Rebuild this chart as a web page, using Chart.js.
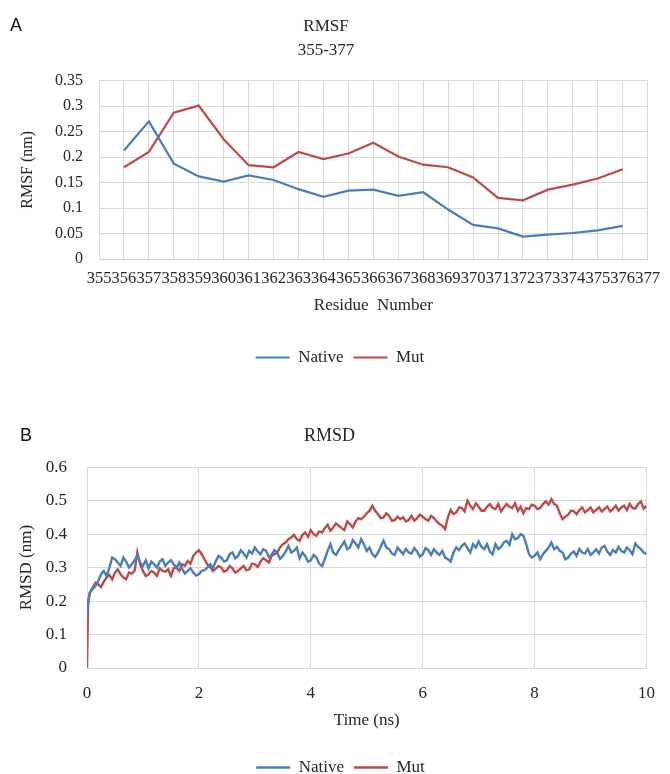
<!DOCTYPE html>
<html>
<head>
<meta charset="utf-8">
<script src="https://cdn.jsdelivr.net/npm/chart.js@4"></script>
<style>
  html, body { margin: 0; padding: 0; background: #fff; width: 670px; height: 774px; overflow: hidden; }
  .panel { position: absolute; left: 0; width: 670px; }
  #top { top: 0; height: 390px; }
  #bottom { top: 390px; height: 400px; }
  canvas { display: block; }
  .tag { position: absolute; font-family: "Liberation Sans", Arial, sans-serif; font-size: 18px; color: #111; }
</style>
</head>
<body>
<div class="panel" id="top"><canvas id="rmsf-chart" width="670" height="390"></canvas></div>
<div class="panel" id="bottom"><canvas id="rmsd-chart" width="670" height="400"></canvas></div>
<div class="tag" style="left:10px; top:15px;">A</div>
<div class="tag" style="left:20px; top:425px;">B</div>
<script>
// RMSF per residue (panel A)
const residues = ['355','356','357','358','359','360','361','362','363','364','365','366',
                  '367','368','369','370','371','372','373','374','375','376','377'];
const rmsfNative = [null, 0.213, 0.270, 0.187, 0.162, 0.152, 0.164, 0.155, 0.137, 0.122, 0.134, 0.136,
                    0.124, 0.131, 0.097, 0.067, 0.060, 0.044, 0.048, 0.051, 0.056, 0.065, null];
const rmsfMut = [null, 0.180, 0.210, 0.287, 0.301, 0.235, 0.184, 0.180, 0.210, 0.196, 0.207, 0.228,
                 0.201, 0.185, 0.180, 0.160, 0.120, 0.115, 0.136, 0.146, 0.158, 0.176, null];

// RMSD over time (panel B), one row per ns
const rmsdTime = [
  0, 0.02, 0.05, 0.1, 0.15, 0.2, 0.25, 0.3, 0.35, 0.4, 0.45, 0.5, 0.55, 0.6, 0.65, 0.7, 0.75, 0.8, 0.85, 0.9, 0.95,
  1.0, 1.05, 1.1, 1.15, 1.2, 1.25, 1.3, 1.35, 1.4, 1.45, 1.5, 1.55, 1.6, 1.65, 1.7, 1.75, 1.8, 1.85, 1.9, 1.95,
  2.0, 2.05, 2.1, 2.15, 2.2, 2.25, 2.3, 2.35, 2.4, 2.45, 2.5, 2.55, 2.6, 2.65, 2.7, 2.75, 2.8, 2.85, 2.9, 2.95,
  3.0, 3.05, 3.1, 3.15, 3.2, 3.25, 3.3, 3.35, 3.4, 3.45, 3.5, 3.55, 3.6, 3.65, 3.7, 3.75, 3.8, 3.85, 3.9, 3.95,
  4.0, 4.05, 4.1, 4.15, 4.2, 4.25, 4.3, 4.35, 4.4, 4.45, 4.5, 4.55, 4.6, 4.65, 4.7, 4.75, 4.8, 4.85, 4.9, 4.95,
  5.0, 5.05, 5.1, 5.15, 5.2, 5.25, 5.3, 5.35, 5.4, 5.45, 5.5, 5.55, 5.6, 5.65, 5.7, 5.75, 5.8, 5.85, 5.9, 5.95,
  6.0, 6.05, 6.1, 6.15, 6.2, 6.25, 6.3, 6.35, 6.4, 6.45, 6.5, 6.55, 6.6, 6.65, 6.7, 6.75, 6.8, 6.85, 6.9, 6.95,
  7.0, 7.05, 7.1, 7.15, 7.2, 7.25, 7.3, 7.35, 7.4, 7.45, 7.5, 7.55, 7.6, 7.65, 7.7, 7.75, 7.8, 7.85, 7.9, 7.95,
  8.0, 8.05, 8.1, 8.15, 8.2, 8.25, 8.3, 8.35, 8.4, 8.45, 8.5, 8.55, 8.6, 8.65, 8.7, 8.75, 8.8, 8.85, 8.9, 8.95,
  9.0, 9.05, 9.1, 9.15, 9.2, 9.25, 9.3, 9.35, 9.4, 9.45, 9.5, 9.55, 9.6, 9.65, 9.7, 9.75, 9.8, 9.85, 9.9, 9.95,
  10.0];
const rmsdNative = [
  0.15, 0.20, 0.225, 0.235, 0.245, 0.26, 0.28, 0.29, 0.275, 0.30, 0.33, 0.325, 0.315, 0.305, 0.33, 0.318, 0.30, 0.31, 0.322, 0.335, 0.315,
  0.305, 0.322, 0.298, 0.318, 0.31, 0.30, 0.318, 0.325, 0.305, 0.315, 0.322, 0.31, 0.30, 0.315, 0.296, 0.282, 0.29, 0.298, 0.285, 0.276,
  0.28, 0.29, 0.292, 0.30, 0.31, 0.298, 0.318, 0.335, 0.33, 0.318, 0.322, 0.34, 0.345, 0.328, 0.335, 0.352, 0.342, 0.33, 0.35, 0.342,
  0.36, 0.348, 0.34, 0.355, 0.35, 0.332, 0.338, 0.352, 0.345, 0.326, 0.335, 0.348, 0.365, 0.345, 0.35, 0.36, 0.328, 0.345, 0.335, 0.318,
  0.322, 0.338, 0.33, 0.312, 0.305, 0.325, 0.35, 0.37, 0.345, 0.338, 0.352, 0.365, 0.378, 0.355, 0.36, 0.382, 0.372, 0.36, 0.385, 0.37,
  0.35, 0.36, 0.34, 0.332, 0.345, 0.362, 0.38, 0.36, 0.355, 0.342, 0.338, 0.36, 0.35, 0.34, 0.356, 0.345, 0.342, 0.358, 0.348, 0.332,
  0.34, 0.358, 0.352, 0.338, 0.355, 0.345, 0.338, 0.35, 0.33, 0.325, 0.318, 0.345, 0.36, 0.352, 0.365, 0.372, 0.358, 0.345, 0.37, 0.36,
  0.378, 0.362, 0.355, 0.37, 0.348, 0.34, 0.37, 0.355, 0.362, 0.375, 0.38, 0.368, 0.40, 0.385, 0.388, 0.40, 0.395, 0.37, 0.34, 0.33,
  0.335, 0.345, 0.325, 0.34, 0.35, 0.36, 0.375, 0.355, 0.362, 0.35, 0.345, 0.325, 0.33, 0.342, 0.348, 0.335, 0.356, 0.345, 0.342, 0.355,
  0.338, 0.345, 0.355, 0.342, 0.36, 0.365, 0.348, 0.338, 0.352, 0.345, 0.362, 0.35, 0.345, 0.36, 0.352, 0.34, 0.372, 0.362, 0.355, 0.345,
  0.34];
const rmsdMut = [
  0, 0.19, 0.225, 0.24, 0.255, 0.25, 0.242, 0.258, 0.27, 0.278, 0.265, 0.285, 0.295, 0.28, 0.27, 0.265, 0.285, 0.282, 0.29, 0.345, 0.31,
  0.29, 0.275, 0.28, 0.29, 0.285, 0.275, 0.298, 0.29, 0.288, 0.295, 0.275, 0.298, 0.30, 0.29, 0.31, 0.305, 0.32, 0.312, 0.335, 0.345,
  0.352, 0.34, 0.325, 0.31, 0.302, 0.29, 0.296, 0.305, 0.30, 0.288, 0.292, 0.305, 0.298, 0.285, 0.29, 0.298, 0.305, 0.292, 0.295, 0.312,
  0.31, 0.302, 0.318, 0.328, 0.322, 0.315, 0.335, 0.34, 0.345, 0.36, 0.37, 0.375, 0.385, 0.39, 0.398, 0.385, 0.38, 0.398, 0.405, 0.392,
  0.412, 0.40, 0.395, 0.408, 0.405, 0.418, 0.428, 0.41, 0.42, 0.432, 0.425, 0.418, 0.412, 0.438, 0.43, 0.42, 0.438, 0.448, 0.445, 0.452,
  0.462, 0.47, 0.485, 0.47, 0.46, 0.448, 0.45, 0.462, 0.455, 0.44, 0.442, 0.452, 0.445, 0.45, 0.438, 0.442, 0.455, 0.44, 0.448, 0.458,
  0.452, 0.445, 0.44, 0.455, 0.448, 0.438, 0.43, 0.425, 0.415, 0.45, 0.472, 0.46, 0.465, 0.48, 0.478, 0.468, 0.50, 0.485, 0.475, 0.492,
  0.482, 0.47, 0.47, 0.482, 0.49, 0.478, 0.475, 0.49, 0.468, 0.48, 0.49, 0.482, 0.478, 0.492, 0.47, 0.482, 0.462, 0.478, 0.475, 0.488,
  0.485, 0.475, 0.478, 0.49, 0.498, 0.488, 0.505, 0.49, 0.485, 0.462, 0.445, 0.452, 0.458, 0.47, 0.468, 0.46, 0.472, 0.48, 0.465, 0.472,
  0.48, 0.465, 0.472, 0.48, 0.468, 0.475, 0.482, 0.468, 0.475, 0.485, 0.47, 0.48, 0.485, 0.472, 0.49, 0.478, 0.476, 0.49, 0.498, 0.476,
  0.485];

const blue = '#4a7ebb';
const red = '#be4b48';
const gridColor = '#d9d9d9';
const textColor = '#262626';
const serif = '"Liberation Serif", "Times New Roman", serif';

Chart.defaults.font.family = serif;
Chart.defaults.color = textColor;
Chart.defaults.animation = false;

function legendOpts() {
    return {
        position: 'bottom',
        labels: {
            usePointStyle: true,
            pointStyle: 'line',
            pointStyleWidth: 34,
            boxHeight: 3,
            font: { size: 17, family: serif },
            color: textColor,
            padding: 10
        }
    };
}

// nudges the legend sideways so it sits under the middle like the original
function legendShift(dx) {
    return {
        id: 'legendShift',
        afterLayout(chart) {
            chart.legend.left += dx;
            chart.legend.right += dx;
        }
    };
}

// panel A
new Chart(document.querySelector('#rmsf-chart').getContext('2d'), {
    type: 'line',
    data: {
        labels: residues,
        datasets: [
            { label: 'Native', data: rmsfNative, borderColor: blue, backgroundColor: blue, borderWidth: 2.2, pointRadius: 0, tension: 0 },
            { label: 'Mut', data: rmsfMut, borderColor: red, backgroundColor: red, borderWidth: 2.2, pointRadius: 0, tension: 0 }
        ]
    },
    options: {
        responsive: false,
        layout: { padding: { left: 0, right: 18, top: 0, bottom: 14 } },
        plugins: {
            title: { display: true, text: ['RMSF', '355-377'], font: { size: 17, weight: 'normal', lineHeight: 1.4 }, color: textColor, padding: { top: 15, bottom: 18 } },
            legend: legendOpts(),
            tooltip: { enabled: false }
        },
        scales: {
            x: {
                offset: false,
                grid: { color: gridColor, drawTicks: false, offset: false },
                border: { color: gridColor },
                ticks: { autoSkip: false, maxRotation: 0, minRotation: 0, padding: 10, font: { size: 16.5 } },
                title: { display: true, text: 'Residue  Number', font: { size: 17 }, padding: { top: 0, bottom: 23 } },
                afterFit: s => { s.height = 80; }
            },
            y: {
                min: 0, max: 0.35,
                grid: { color: gridColor, drawTicks: false },
                border: { color: gridColor },
                ticks: { stepSize: 0.05, padding: 16, font: { size: 16 }, callback: v => String(+v.toFixed(2)) },
                title: { display: true, text: 'RMSF (nm)', font: { size: 16 }, padding: { top: 18, bottom: 0 } },
                afterFit: s => { s.width = 99; }
            }
        }
    },
    plugins: [legendShift(14)]
});

// panel B
const nativePts = rmsdTime.map((t, i) => ({ x: t, y: rmsdNative[i] }));
const mutPts = rmsdTime.map((t, i) => ({ x: t, y: rmsdMut[i] }));

new Chart(document.querySelector('#rmsd-chart').getContext('2d'), {
    type: 'line',
    data: {
        datasets: [
            { label: 'Native', data: nativePts, borderColor: blue, backgroundColor: blue, borderWidth: 2.4, pointRadius: 0, tension: 0 },
            { label: 'Mut', data: mutPts, borderColor: red, backgroundColor: red, borderWidth: 2.4, pointRadius: 0, tension: 0 }
        ]
    },
    options: {
        responsive: false,
        layout: { padding: { left: 0, right: 11, top: 0, bottom: 4 } },
        plugins: {
            title: { display: true, text: 'RMSD', font: { size: 18, weight: 'normal', lineHeight: 1.4 }, color: textColor, padding: { top: 34, bottom: 18 } },
            legend: legendOpts(),
            tooltip: { enabled: false }
        },
        scales: {
            x: {
                type: 'linear', min: 0, max: 10,
                grid: { color: gridColor, drawTicks: false },
                border: { color: gridColor },
                ticks: { stepSize: 2, padding: 15, font: { size: 17 } },
                title: { display: true, text: 'Time (ns)', font: { size: 17 }, padding: { top: 0, bottom: 18 } },
                afterFit: s => { s.height = 81; }
            },
            y: {
                min: 0, max: 0.6,
                grid: { color: gridColor, drawTicks: false },
                border: { color: gridColor },
                ticks: { stepSize: 0.1, padding: 20, font: { size: 17 }, callback: v => String(+v.toFixed(1)) },
                title: { display: true, text: 'RMSD (nm)', font: { size: 17 }, padding: { top: 16, bottom: 0 } },
                afterFit: s => { s.width = 87; }
            }
        }
    },
    plugins: [legendShift(11)]
});
</script>
</body>
</html>
